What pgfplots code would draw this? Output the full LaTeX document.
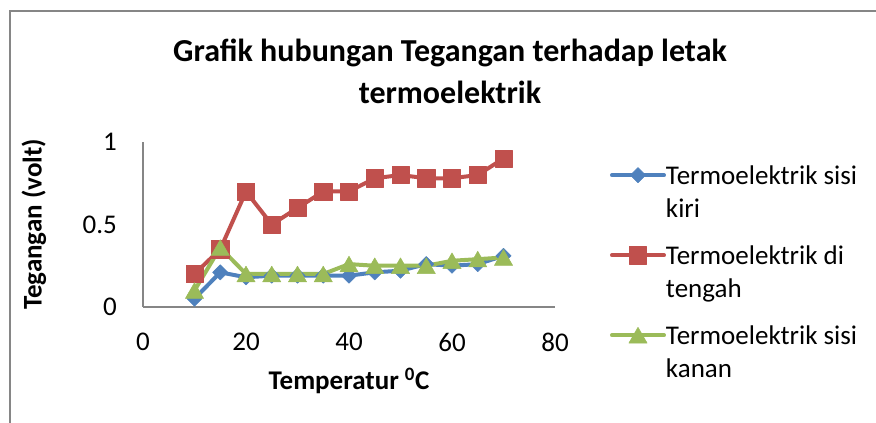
\documentclass[border=0pt]{standalone}
\usepackage{pgfplots}
\pgfplotsset{compat=1.18}
\usepackage{fontspec}
\setmainfont{Carlito}
\definecolor{cblue}{HTML}{4F81BD}
\definecolor{cred}{HTML}{C0504D}
\definecolor{cgreen}{HTML}{9BBB59}
\definecolor{cgray}{HTML}{868686}
\newcommand{\lent}[2]{\parbox[t]{220pt}{\baselineskip=33pt\rule{0pt}{20pt}#1\newline\rule[-8pt]{0pt}{8pt}#2}}
\begin{document}
\begin{tikzpicture}[x=1pt,y=1pt]
\path[use as bounding box] (0,0) rectangle (876,423);
\draw[cgray, line width=1.2pt] (10,-5) -- (10,412) -- (880,412);
\node[font=\fontsize{32}{42}\selectfont\bfseries, align=center, anchor=center] at (450,352)
  {Grafik hubungan Tegangan terhadap letak\\termoelektrik};
\begin{axis}[
  at={(143pt,116pt)}, anchor=south west,
  scale only axis, width=412pt, height=165pt,
  xmin=0, xmax=80, ymin=0, ymax=1,
  xtick={0,20,40,60,80}, ytick={0,0.5,1},
  axis x line*=bottom, axis y line*=left,
  axis line style={cgray, line width=1.2pt, -},
  major tick length=0pt,
  tick label style={font=\fontsize{27}{30}\selectfont, inner sep=0pt},
  /pgf/number format/assume math mode=true,
  yticklabel style={xshift=-26pt},
  xticklabel style={yshift=-26pt},
  xlabel={Temperatur \textsuperscript{0}C},
  ylabel={Tegangan (volt)},
  label style={font=\fontsize{27}{30}\selectfont\bfseries},
  xlabel style={at={(axis description cs:0.5,-0.448)}, anchor=center},
  ylabel style={at={(axis description cs:-0.265,0.5)}, anchor=center},
  every axis plot/.append style={line width=4pt, line cap=round, line join=round},
  legend image code/.code={\path[draw=none, fill=none] (0pt,13pt) -- (0pt,-67pt);
    \draw[mark repeat=2,mark phase=2,#1] plot coordinates {(0pt,0pt) (26pt,0pt) (52pt,0pt)};},
  legend style={at={(axis description cs:1.133,0.879)}, anchor=north west, draw=none, fill=none,
    font=\fontsize{27}{30}\selectfont, inner sep=0pt, row sep=0pt,
    nodes={inner sep=0pt}},
  legend cell align=left,
  clip=false,
]
\addplot[color=cblue, mark=square*, mark size=5.4pt, mark options={rotate=45, line width=0.5pt}] coordinates {
(10,0.05) (15,0.21) (20,0.18) (25,0.19) (30,0.19) (35,0.19) (40,0.19)
(45,0.21) (50,0.22) (55,0.26) (60,0.25) (65,0.26) (70,0.31)};
\addlegendentry{\lent{Termoelektrik sisi}{kiri}}
\addplot[color=cred, mark=square*, mark size=8.6pt, mark options={line width=0.5pt}] coordinates {
(10,0.2) (15,0.35) (20,0.7) (25,0.5) (30,0.6) (35,0.7) (40,0.7)
(45,0.78) (50,0.8) (55,0.78) (60,0.78) (65,0.8) (70,0.9)};
\addlegendentry{\lent{Termoelektrik di}{tengah}}
\addplot[color=cgreen, mark=triangle*, mark size=10.5pt, mark options={line width=0.5pt, yshift=-2.6pt}] coordinates {
(10,0.1) (15,0.36) (20,0.2) (25,0.2) (30,0.2) (35,0.2) (40,0.26)
(45,0.25) (50,0.25) (55,0.25) (60,0.28) (65,0.29) (70,0.3)};
\addlegendentry{\lent{Termoelektrik sisi}{kanan}}
\end{axis}
\end{tikzpicture}
\end{document}
